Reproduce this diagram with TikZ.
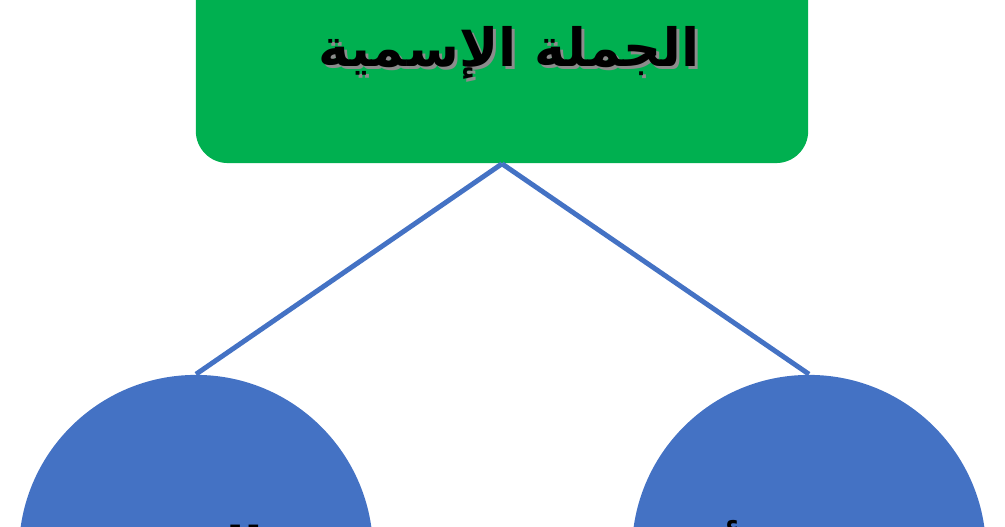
\documentclass[tikz,border=0pt]{standalone}
\usepackage{fontspec}
\usepackage{xcolor}
\TeXXeTstate=1
\newfontfamily\arabicfont[Script=Arabic]{DejaVu Sans}
\definecolor{titlegreen}{RGB}{0,176,80}
\definecolor{branchblue}{RGB}{68,114,196}

\begin{document}
\begin{tikzpicture}[x=0.01cm, y=-0.01cm,
    titlefont/.style={font=\arabicfont\bfseries\fontsize{15}{18}\selectfont},
    titlebox/.style={fill=titlegreen, rounded corners=0.32cm, minimum width=6.12cm, minimum height=2.16cm},
    branch/.style={circle, fill=branchblue, minimum size=3.54cm, inner sep=0pt,
      font=\arabicfont\bfseries\fontsize{15.5}{18}\selectfont},
    edge/.style={draw=branchblue, line width=1.4pt}]
    \useasboundingbox (0,0) rectangle (1005,527);
    \clip (0,0) rectangle (1005,527);

    % Title box with shadowed text
    \node[titlebox] (title) at (502,55) {};
    \node[titlefont, text=black!45] (titleshadow) at (512,56) {\beginR الجملة الإسمية\endR};
    \node[titlefont] (titletext) at (509,53) {\beginR الجملة الإسمية\endR};

    % The two parts of the sentence
    \node[branch] (khabar) at (196,552) {\beginR الخبر\endR};
    \node[branch] (mubtada) at (809,552) {\beginR المبتدأ\endR};

    \draw[edge] (title.south) -- (khabar.north);
    \draw[edge] (title.south) -- (mubtada.north);
\end{tikzpicture}
\end{document}
